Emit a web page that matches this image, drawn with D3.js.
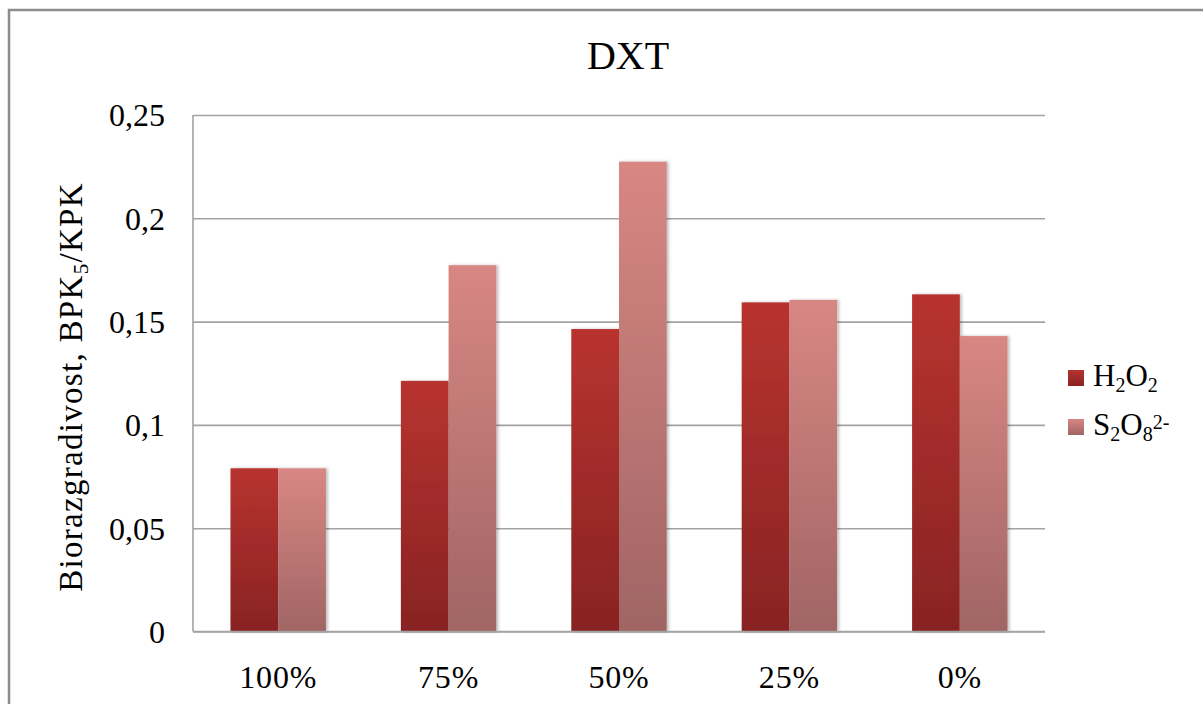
<!DOCTYPE html>
<html>
<head>
<meta charset="utf-8">
<script src="https://cdn.jsdelivr.net/npm/d3@7"></script>
<style>
  html, body { margin: 0; padding: 0; background: #fff; }
  svg { display: block; font-family: "Liberation Serif", "Times New Roman", serif; }
</style>
</head>
<body>
<svg id="chart" width="1203" height="704"></svg>
<script>
const categories = ["100%", "75%", "50%", "25%", "0%"];
const seriesNames = ["H2O2", "S2O8"];
const h2o2Values = [0.0790, 0.1213, 0.1464, 0.1593, 0.1632];
const s2o8Values = [0.0790, 0.1773, 0.2274, 0.1605, 0.1430];
const yTicks = [0, 0.05, 0.1, 0.15, 0.2, 0.25];
const yTickLabels = ["0", "0,05", "0,1", "0,15", "0,2", "0,25"];

const svg = d3.select("#chart");
const plot = { left: 193, right: 1045, top: 115, bottom: 631.5 };

// outer chart border (extends past right/bottom edge)
svg.append("rect").attr("x", 9).attr("y", 10).attr("width", 1230).attr("height", 740)
  .attr("fill", "#fff").attr("stroke", "#8c8c8c").attr("stroke-width", 2.5);

const defs = svg.append("defs");
const grads = [
  { id: "g0", top: "#b8332f", bottom: "#882323" },
  { id: "g1", top: "#d88783", bottom: "#a06564" }
];
grads.forEach(g => {
  const lg = defs.append("linearGradient").attr("id", g.id)
    .attr("x1", 0).attr("y1", 0).attr("x2", 0).attr("y2", 1);
  lg.append("stop").attr("offset", "0%").attr("stop-color", g.top);
  lg.append("stop").attr("offset", "100%").attr("stop-color", g.bottom);
});
const sh = defs.append("filter").attr("id", "shadow")
  .attr("x", "-20%").attr("y", "-5%").attr("width", "140%").attr("height", "110%");
sh.append("feDropShadow").attr("dx", 2).attr("dy", 0).attr("stdDeviation", 1.5)
  .attr("flood-color", "#000").attr("flood-opacity", 0.25);

const y = d3.scaleLinear().domain([0, 0.25]).range([plot.bottom, plot.top]);
const x0 = d3.scaleBand().domain(categories).range([plot.left, plot.right])
  .paddingInner(0.44).paddingOuter(0.22);
const x1 = d3.scaleBand().domain(seriesNames).range([0, x0.bandwidth()]);

// gridlines
const yAxis = d3.axisLeft(y).tickValues(yTicks).tickSize(-(plot.right - plot.left))
  .tickFormat((d, i) => yTickLabels[i]).tickPadding(28);
const gy = svg.append("g").attr("transform", `translate(${plot.left},0)`).call(yAxis);
gy.select(".domain").remove();
gy.selectAll(".tick line").attr("stroke", "#a3a3a3").attr("stroke-width", 1.6);
gy.selectAll(".tick text").attr("font-size", 32).attr("fill", "#000")
  .attr("font-family", "Liberation Serif, serif").attr("dy", "0.34em");

// bars
const data = categories.map((c, i) => ({ cat: c, vals: [h2o2Values[i], s2o8Values[i]] }));
const groups = svg.append("g").selectAll("g").data(data).join("g")
  .attr("transform", d => `translate(${x0(d.cat)},0)`);
groups.selectAll("rect").data(d => d.vals.map((v, j) => ({ v, j })))
  .join("rect")
  .attr("x", d => x1(seriesNames[d.j]))
  .attr("y", d => y(d.v))
  .attr("width", x1.bandwidth())
  .attr("height", d => y(0) - y(d.v))
  .attr("fill", d => `url(#g${d.j})`)
  .attr("filter", "url(#shadow)");

// axes lines
svg.append("line").attr("x1", plot.left).attr("x2", plot.left)
  .attr("y1", plot.top).attr("y2", plot.bottom)
  .attr("stroke", "#a3a3a3").attr("stroke-width", 1.6);
const xAxis = d3.axisBottom(x0).tickSize(0).tickPadding(34);
const gx = svg.append("g").attr("transform", `translate(0,${plot.bottom})`).call(xAxis);
gx.select(".domain").attr("stroke", "#a3a3a3").attr("stroke-width", 1.6)
  .attr("d", `M${plot.left},0H${plot.right}`);
gx.selectAll(".tick text").attr("font-size", 32).attr("fill", "#000")
  .attr("font-family", "Liberation Serif, serif").attr("letter-spacing", 0.8);

// title
svg.append("text").attr("x", 628).attr("y", 69).attr("text-anchor", "middle")
  .attr("font-size", 40).attr("fill", "#000").text("DXT");

// y-axis label
const yl = svg.append("text").attr("transform", `translate(82,387) rotate(-90)`)
  .attr("text-anchor", "middle").attr("font-size", 33).attr("letter-spacing", 1.3)
  .attr("fill", "#000");
yl.append("tspan").text("Biorazgradivost, BPK");
yl.append("tspan").attr("font-size", 21).attr("dy", 6).text("5");
yl.append("tspan").attr("dy", -6).text("/KPK");

// legend
const legend = svg.append("g");
const legY = [370, 419];
seriesNames.forEach((s, i) => {
  legend.append("rect").attr("x", 1068).attr("y", legY[i]).attr("width", 16).attr("height", 16)
    .attr("fill", `url(#g${i})`);
});
const t1 = legend.append("text").attr("x", 1093).attr("y", 386).attr("font-size", 31).attr("fill", "#000");
t1.append("tspan").text("H");
t1.append("tspan").attr("font-size", 20).attr("dy", 6).text("2");
t1.append("tspan").attr("dy", -6).text("O");
t1.append("tspan").attr("font-size", 20).attr("dy", 6).text("2");
const t2 = legend.append("text").attr("x", 1093).attr("y", 435).attr("font-size", 31).attr("fill", "#000");
t2.append("tspan").text("S");
t2.append("tspan").attr("font-size", 20).attr("dy", 6).text("2");
t2.append("tspan").attr("dy", -6).text("O");
t2.append("tspan").attr("font-size", 20).attr("dy", 6).text("8");
t2.append("tspan").attr("font-size", 20).attr("dy", -12).text("2-");
</script>
</body>
</html>
